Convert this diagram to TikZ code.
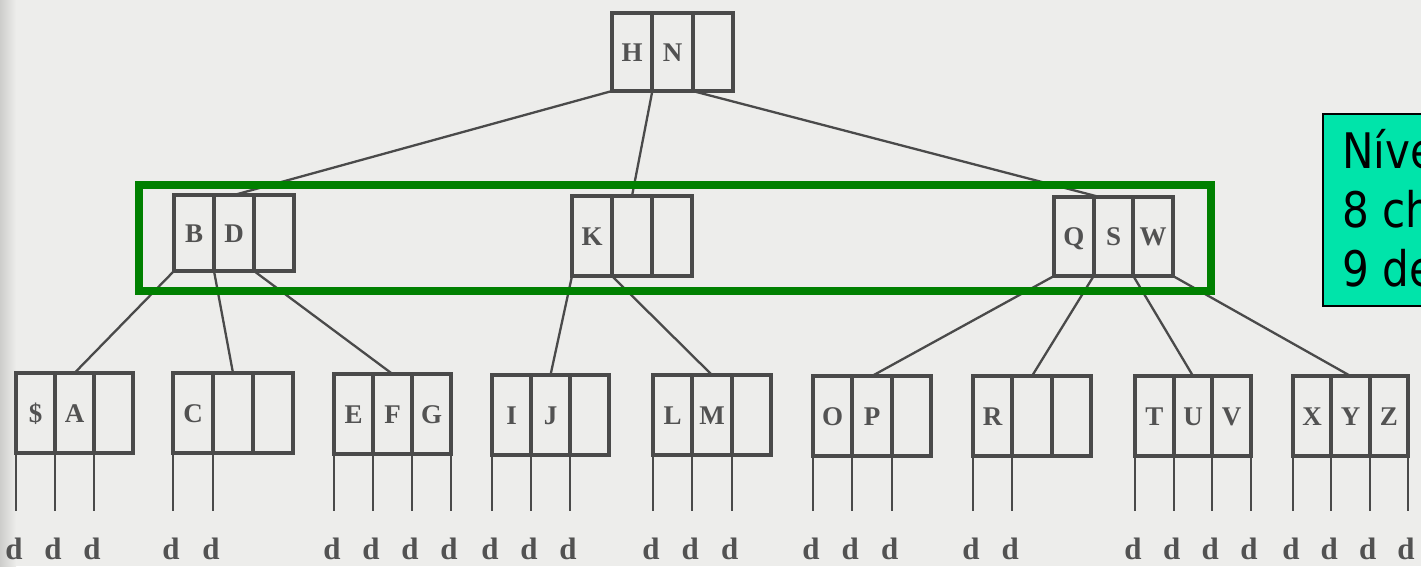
\documentclass[tikz,border=0pt]{standalone}
\usepackage{fontspec}
\setmainfont{Liberation Serif}
\newfontfamily\notefont[FakeStretch=0.86]{DejaVu Sans}
\usetikzlibrary{calc}

\definecolor{paper}{RGB}{237,237,235}
\definecolor{paperedge}{RGB}{205,205,203}
\definecolor{ink}{RGB}{74,74,74}
\definecolor{inktext}{RGB}{82,82,82}
\definecolor{levelgreen}{RGB}{0,128,0}
\definecolor{notefill}{RGB}{0,228,170}

\tikzset{
  btbox/.style={rectangle, draw=ink, line width=4.2pt, inner sep=0pt, outer sep=0pt},
  btdiv/.style={draw=ink, line width=4pt},
  keytext/.style={font=\fontsize{27}{27}\selectfont\bfseries, text=inktext, inner sep=0pt, anchor=base},
  edge/.style={draw=ink, line width=2.3pt, line cap=round},
  stem/.style={draw=ink, line width=2pt},
  dtext/.style={font=\fontsize{31}{31}\selectfont\bfseries, text=inktext, inner sep=0pt, anchor=base},
  levelbox/.style={rectangle, draw=levelgreen, line width=8pt, inner sep=0pt},
  notebox/.style={rectangle, draw=black, line width=1.5pt, fill=notefill, inner sep=0pt},
  notetext/.style={font=\notefont\fontsize{49}{58}\selectfont, text=black, inner sep=0pt, anchor=base west},
}

% B-tree page: name, centre x, centre y, width, height, three keys
\newcommand\btnode[8]{%
  \node[btbox, minimum width=#4pt, minimum height=#5pt] (#1) at (#2,#3) {};
  \draw[btdiv] ($(#1.north west)!0.3333!(#1.north east)$) -- ($(#1.south west)!0.3333!(#1.south east)$);
  \draw[btdiv] ($(#1.north west)!0.6667!(#1.north east)$) -- ($(#1.south west)!0.6667!(#1.south east)$);
  \node[keytext] (#1-k1) at ($(#1.west)!0.1667!(#1.east)+(0,9)$) {#6};
  \node[keytext] (#1-k2) at ($(#1.west)!0.5!(#1.east)+(0,9)$) {#7};
  \node[keytext] (#1-k3) at ($(#1.west)!0.8333!(#1.east)+(0,9)$) {#8};
}

% data pointers hanging under a leaf page
\newcommand\leafptrs[2]{%
  \foreach \f [count=\i] in {#2} {
    \coordinate (#1-p\i) at ($(#1.south west)!\f!(#1.south east)$);
    \coordinate (#1-e\i) at (#1-p\i |- stemend);
    \draw[stem] (#1-p\i) -- (#1-e\i);
    \node[dtext] (#1-d\i) at ($(#1-p\i |- dbase)+(-2,0)$) {d};
  }
}

\begin{document}
\begin{tikzpicture}[x=1pt, y=-1pt]
  \useasboundingbox (0,0) rectangle (1421,566);
  \clip (0,0) rectangle (1421,566);
  \fill[paper] (0,0) rectangle (1421,566);
  \shade[left color=paperedge, right color=paper] (0,0) rectangle (16,566);

  \coordinate (stemend) at (0,511);
  \coordinate (dbase) at (0,559);

  % root
  \btnode{HN}{672.5}{52}{121}{78}{H}{N}{}
  % second level
  \btnode{BD}{234}{233}{120}{76}{B}{D}{}
  \btnode{K}{632}{236}{120}{80}{K}{}{}
  \btnode{QSW}{1113.5}{236.5}{119}{79}{Q}{S}{W}
  % leaves
  \btnode{SA}{74.5}{413}{117}{80}{\$}{A}{}
  \btnode{C}{233}{413}{120}{80}{C}{}{}
  \btnode{EFG}{392.5}{414}{117}{80}{E}{F}{G}
  \btnode{IJ}{550.5}{415}{117}{80}{I}{J}{}
  \btnode{LM}{712}{415}{118}{80}{L}{M}{}
  \btnode{OP}{872}{416}{118}{80}{O}{P}{}
  \btnode{R}{1032}{416}{118}{80}{R}{}{}
  \btnode{TUV}{1193}{416}{116}{80}{T}{U}{V}
  \btnode{XYZ}{1350.5}{416}{115}{80}{X}{Y}{Z}

  % root pointers
  \draw[edge] (HN.south west) -- (BD.north);
  \draw[edge] ($(HN.south west)!0.3333!(HN.south east)$) -- (K.north);
  \draw[edge] ($(HN.south west)!0.6667!(HN.south east)$) -- ($(QSW.north)+(-14,0)$);
  % second level pointers
  \draw[edge] (BD.south west) -- (SA.north);
  \draw[edge] ($(BD.south west)!0.3333!(BD.south east)$) -- (C.north);
  \draw[edge] ($(BD.south west)!0.6667!(BD.south east)$) -- (EFG.north);
  \draw[edge] (K.south west) -- (IJ.north);
  \draw[edge] ($(K.south west)!0.3333!(K.south east)$) -- (LM.north);
  \draw[edge] (QSW.south west) -- (OP.north);
  \draw[edge] ($(QSW.south west)!0.3333!(QSW.south east)$) -- (R.north);
  \draw[edge] ($(QSW.south west)!0.6667!(QSW.south east)$) -- (TUV.north);
  \draw[edge] (QSW.south east) -- (XYZ.north);

  % data pointers
  \leafptrs{SA}{0,0.3333,0.6667}
  \leafptrs{C}{0,0.3333}
  \leafptrs{EFG}{0,0.3333,0.6667,1}
  \leafptrs{IJ}{0,0.3333,0.6667}
  \leafptrs{LM}{0,0.3333,0.6667}
  \leafptrs{OP}{0,0.3333,0.6667}
  \leafptrs{R}{0,0.3333}
  \leafptrs{TUV}{0,0.3333,0.6667,1}
  \leafptrs{XYZ}{0,0.3333,0.6667,1}

  % highlighted level
  \node[levelbox, minimum width=1072pt, minimum height=106pt] (level) at (675,238) {};

  % note
  \node[notebox, anchor=north west, minimum width=160pt, minimum height=192pt] (note) at (1322,113) {};
  \node[notetext] (note-l1) at (1342,168) {Níve};
  \node[notetext] (note-l2) at (1342,227) {8 ch};
  \node[notetext] (note-l3) at (1342,286) {9 de};
\end{tikzpicture}
\end{document}
